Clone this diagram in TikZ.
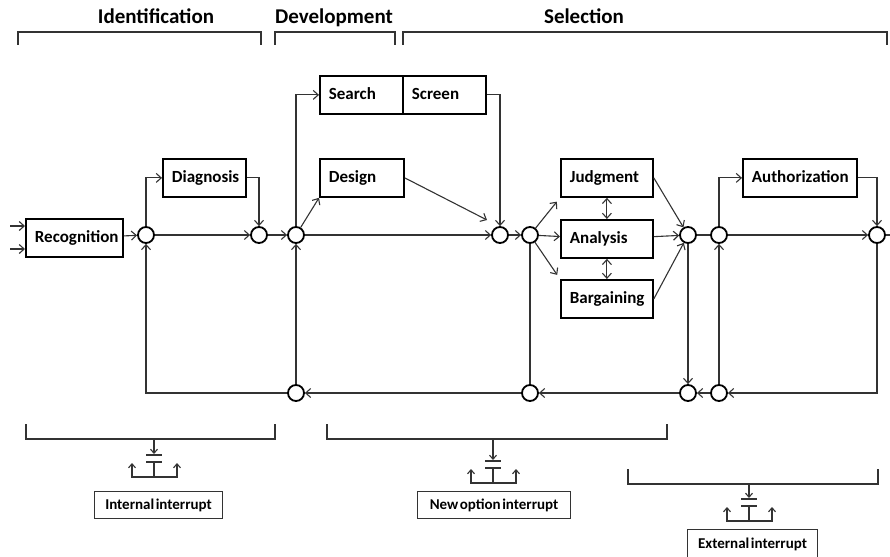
\documentclass[tikz,border=0pt]{standalone}
\usepackage{fontspec}
\setmainfont{Carlito}
\newfontfamily\lblfont[WordSpace=0.45]{Carlito}
\usetikzlibrary{arrows.meta}
\tikzset{
  blk/.style={draw=black, line width=1.8pt, anchor=north west, inner xsep=9pt, inner ysep=0pt,
    text width=#1, align=left, minimum height=38pt, text height=12pt, text depth=3.5pt,
    font=\fontsize{17}{18}\selectfont\bfseries},
  jn/.style={draw=black, circle, line width=1.8pt, minimum size=16pt, inner sep=0pt, fill=white},
  lbl/.style={draw=black!80, line width=1.1pt, anchor=north west, minimum height=27pt, inner xsep=6pt,
    font=\lblfont\fontsize{15}{16}\selectfont\bfseries},
  hd/.style={anchor=base, font=\fontsize{21}{24}\selectfont\bfseries},
  ln/.style={draw=black!80, line width=1.1pt},
  arr/.style={ln, -{Straight Barb[length=5pt,width=9pt]}},
  dbl/.style={ln, {Straight Barb[length=5pt,width=9pt]}-{Straight Barb[length=5pt,width=9pt]}},
  tick/.style={ln, -{Straight Barb[length=4pt,width=7pt]}},
  ticks/.style={ln, {Straight Barb[length=4pt,width=7pt]}-{Straight Barb[length=4pt,width=7pt]}}
}
\begin{document}
\begin{tikzpicture}[x=1pt, y=-1pt]
\useasboundingbox (0,0) rectangle (890,556);

\node[hd] (hid) at (156,24) {Identification};
\node[hd] (hdev) at (334,24) {Development};
\node[hd] (hsel) at (584,24) {Selection};
\draw[ln] (18,45) -- (18,32) -- (261,32) -- (261,45);
\draw[ln] (275,45) -- (275,32) -- (395,32) -- (395,45);
\draw[ln] (403,45) -- (403,32) -- (887,32) -- (887,45);

\node[blk=79pt] (rec) at (25,218) {Recognition};
\node[blk=65pt] (diag) at (162,158) {Diagnosis};
\node[blk=65pt] (srch) at (319,75) {Search};
\node[blk=65pt] (scrn) at (402,75) {Screen};
\node[blk=66pt] (dsgn) at (319,158) {Design};
\node[blk=74pt] (judg) at (560,158) {Judgment};
\node[blk=74pt] (anal) at (560,219) {Analysis};
\node[blk=74pt] (barg) at (560,279) {Bargaining};
\node[blk=96pt] (auth) at (742,158) {Authorization};

\node[jn] (c1) at (146,235) {};
\node[jn] (c2) at (259,235) {};
\node[jn] (c3) at (296,235) {};
\node[jn] (c4) at (500,235) {};
\node[jn] (c5) at (530,235) {};
\node[jn] (c6) at (688,235) {};
\node[jn] (c7) at (719,235) {};
\node[jn] (c8) at (877,235) {};
\node[jn] (b3) at (296,393) {};
\node[jn] (b5) at (530,393) {};
\node[jn] (b6) at (688,393) {};
\node[jn] (b7) at (719,393) {};

\coordinate (ina) at (10,226);
\coordinate (inb) at (10,249);
\coordinate (dend) at (487,220);
\coordinate (out) at (890,235);

\draw[arr] (ina) -- (ina -| rec.west);
\draw[arr] (inb) -- (inb -| rec.west);
\draw[arr] (rec) -- (c1);
\draw[arr] (c1) -- (c2);
\draw[arr] (c1) |- (diag);
\draw[arr] (diag) -| (c2);
\draw[arr] (c2) -- (c3);
\draw[arr] (c3) |- (srch);
\draw[arr] (scrn) -| (c4);
\draw[arr] (c3) -- (dsgn.south west);
\draw[arr] (dsgn.east) -- (dend);
\draw[arr] (c3) -- (c4);
\draw[arr] (c4) -- (c5);
\draw[arr, shorten >=5pt] (c5) -- (judg.south west);
\draw[arr] (c5) -- (anal);
\draw[arr, shorten >=5pt] (c5) -- (barg.north west);
\draw[dbl] (judg) -- (anal);
\draw[dbl] (anal) -- (barg);
\draw[arr] (judg.east) -- (c6);
\draw[arr] (anal) -- (c6);
\draw[arr] (barg.east) -- (c6);
\draw[ln] (c6) -- (c7);
\draw[arr] (c7) |- (auth);
\draw[arr] (auth) -| (c8);
\draw[arr] (c7) -- (c8);
\draw[ln] (c8) -- (out);
\draw[arr] (c8) |- (b7);
\draw[arr] (c6) -- (b6);
\draw[arr] (b7) -- (b6);
\draw[arr] (b7) -- (c7);
\draw[arr] (b6) -- (b5);
\draw[ln] (c5) -- (b5);
\draw[arr] (b5) -- (b3);
\draw[arr] (b3) -- (c3);
\draw[arr] (b3) -| (c1);

\draw[ln] (26,424) -- (26,439) -- (275,439) -- (275,424);
\draw[ln] (327,424) -- (327,439) -- (667,439) -- (667,424);
\draw[ln] (628,469) -- (628,484) -- (878,484) -- (878,469);
\foreach \x/\yb/\yr in {154/439/455, 493/439/461, 749/484/499} {
  \draw[tick] (\x,\yb) -- (\x,\yr-1);
  \draw[ln] (\x-8,\yr) -- (\x+8,\yr);
  \draw[ln] (\x-8,\yr+7) -- (\x+8,\yr+7);
  \draw[ln] (\x,\yr+7) -- (\x,\yr+22);
  \draw[ticks] (\x-22,\yr+8) -- (\x-22,\yr+22) -- (\x+23,\yr+22) -- (\x+23,\yr+8);
}

\node[lbl, minimum width=128pt] (intr) at (94,491) {Internal interrupt};
\node[lbl, minimum width=153pt] (nopt) at (417,491) {New option interrupt};
\node[lbl, minimum width=130pt, minimum height=30pt] (extr) at (687,529) {External interrupt};
\end{tikzpicture}
\end{document}
